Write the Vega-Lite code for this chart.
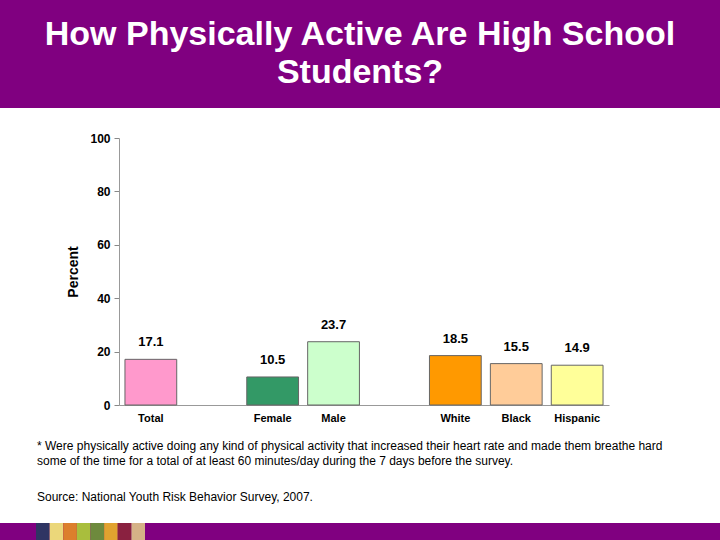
{
  "$schema": "https://vega.github.io/schema/vega-lite/v6.json",
  "background": "white",
  "padding": 0,
  "spacing": 24,
  "config": {"view": {"stroke": null}, "font": "Liberation Sans"},
  "resolve": {"scale": {"color": "independent"}},
  "vconcat": [
    {
      "width": 720,
      "height": 108,
      "view": {"fill": "#800080", "stroke": null},
      "data": {"values": [
        {"row": 1, "line": "How Physically Active Are High School"},
        {"row": 2, "line": "Students?"}
      ]},
      "mark": {"type": "text", "font": "Liberation Sans", "fontWeight": "bold", "fontSize": 34, "color": "white", "align": "center", "baseline": "middle"},
      "encoding": {
        "y": {"field": "row", "type": "ordinal", "axis": null, "scale": {"padding": 0.92}},
        "text": {"field": "line"}
      }
    },
    {
      "title": {
        "text": ["* Were physically active doing any kind of physical activity that increased their heart rate and made them breathe hard", "some of the time for a total of at least 60 minutes/day during the 7 days before the survey."],
        "orient": "bottom",
        "anchor": "start",
        "frame": "group",
        "dx": 37,
        "offset": 18,
        "font": "Liberation Sans",
        "fontSize": 12,
        "fontWeight": "normal",
        "color": "black",
        "lineHeight": 15
      },
      "spacing": 0,
      "hconcat": [
        {
          "width": 66,
          "height": 267,
          "data": {"values": []},
          "mark": "point",
          "view": {"stroke": null}
        },
        {
          "width": 490,
          "height": 267,
          "view": {"stroke": null},
          "data": {"values": [
            {"group": "Total", "percent": 17.1},
            {"group": "Female", "percent": 10.5},
            {"group": "Male", "percent": 23.7},
            {"group": "White", "percent": 18.5},
            {"group": "Black", "percent": 15.5},
            {"group": "Hispanic", "percent": 14.9}
          ]},
          "encoding": {
            "x": {
              "field": "group",
              "type": "nominal",
              "sort": null,
              "scale": {"domain": ["Total", "gap1", "Female", "Male", "gap2", "White", "Black", "Hispanic"], "paddingInner": 0.15, "paddingOuter": 0.098},
              "axis": {
                "title": null,
                "labelAngle": 0,
                "ticks": false,
                "labelPadding": 7,
                "labelFont": "Liberation Sans",
                "labelFontWeight": "bold",
                "labelFontSize": 11,
                "labelColor": "black",
                "domainColor": "#999999",
                "labelExpr": "indexof(datum.value, 'gap') == 0 ? '' : datum.value"
              }
            },
            "y": {
              "field": "percent",
              "type": "quantitative",
              "scale": {"domain": [0, 100], "nice": false},
              "axis": {
                "title": "Percent",
                "values": [0, 20, 40, 60, 80, 100],
                "grid": false,
                "tickSize": 5,
                "tickColor": "#888888",
                "domainColor": "#999999",
                "labelPadding": 4,
                "labelFont": "Liberation Sans",
                "labelFontWeight": "bold",
                "labelFontSize": 12,
                "labelColor": "black",
                "titleFont": "Liberation Sans",
                "titleFontWeight": "bold",
                "titleFontSize": 14,
                "titleColor": "black",
                "titlePadding": 9
              }
            }
          },
          "layer": [
            {
              "mark": {"type": "bar", "stroke": "#666666", "strokeWidth": 1},
              "encoding": {
                "color": {
                  "field": "group",
                  "type": "nominal",
                  "legend": null,
                  "scale": {
                    "domain": ["Total", "Female", "Male", "White", "Black", "Hispanic"],
                    "range": ["#ff99cc", "#339966", "#ccffcc", "#ff9900", "#ffcc99", "#ffff99"]
                  }
                }
              }
            },
            {
              "mark": {"type": "text", "font": "Liberation Sans", "fontWeight": "bold", "fontSize": 13, "color": "black", "baseline": "alphabetic", "dy": -13},
              "encoding": {"text": {"field": "percent", "type": "quantitative", "format": ".1f"}}
            }
          ]
        }
      ]
    },
    {
      "width": 720,
      "height": 18,
      "view": {"fill": "#800080", "stroke": null},
      "title": {
        "text": "Source: National Youth Risk Behavior Survey, 2007.",
        "orient": "top",
        "anchor": "start",
        "frame": "group",
        "dx": 37,
        "offset": 19,
        "font": "Liberation Sans",
        "fontSize": 12,
        "fontWeight": "normal",
        "color": "black"
      },
      "data": {"values": [
        {"stripe": "s1"}, {"stripe": "s2"}, {"stripe": "s3"}, {"stripe": "s4"},
        {"stripe": "s5"}, {"stripe": "s6"}, {"stripe": "s7"}, {"stripe": "s8"}
      ]},
      "mark": {"type": "bar"},
      "encoding": {
        "x": {"field": "stripe", "type": "nominal", "axis": null, "scale": {"range": [36, 145], "paddingInner": 0, "paddingOuter": 0}},
        "color": {
          "field": "stripe",
          "type": "nominal",
          "legend": null,
          "scale": {
            "domain": ["s1", "s2", "s3", "s4", "s5", "s6", "s7", "s8"],
            "range": ["#2f3563", "#ebd77a", "#dc7f2c", "#a9be3d", "#6e8a3d", "#e1a22f", "#8a2140", "#d5b287"]
          }
        }
      }
    }
  ]
}
